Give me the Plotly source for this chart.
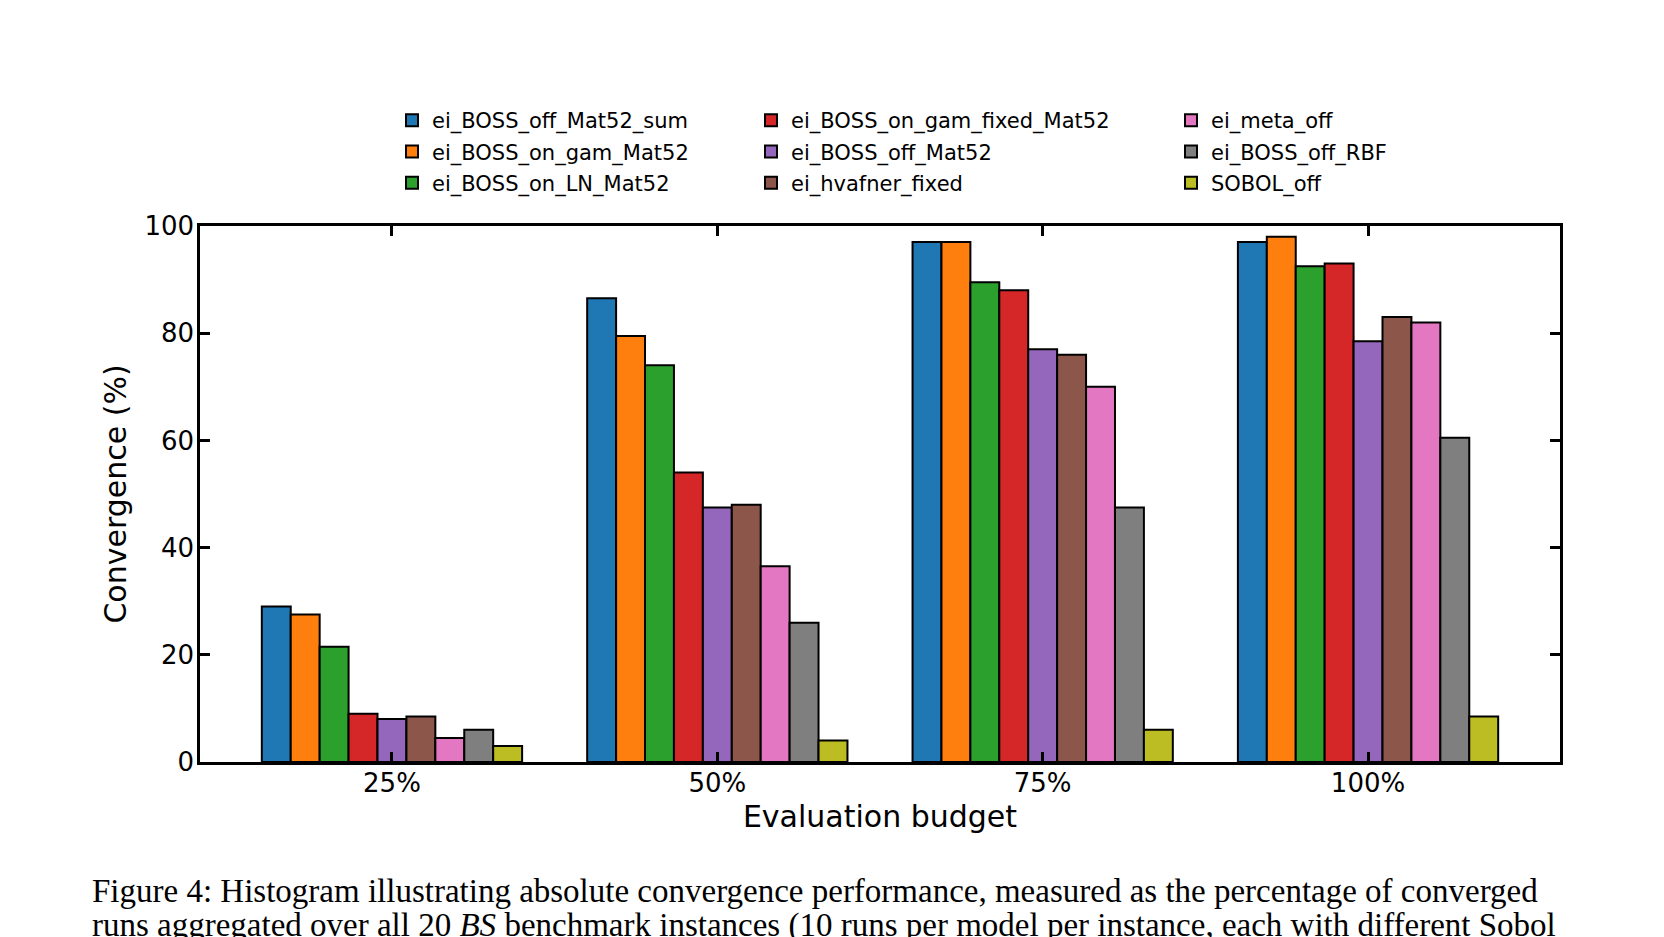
import plotly.graph_objects as go

categories = ["25%", "50%", "75%", "100%"]
series_names = [
    "ei_BOSS_off_Mat52_sum",
    "ei_BOSS_on_gam_Mat52",
    "ei_BOSS_on_LN_Mat52",
    "ei_BOSS_on_gam_fixed_Mat52",
    "ei_BOSS_off_Mat52",
    "ei_hvafner_fixed",
    "ei_meta_off",
    "ei_BOSS_off_RBF",
    "SOBOL_off",
]
ei_BOSS_off_Mat52_sum = [29.0, 86.5, 97.0, 97.0]
ei_BOSS_on_gam_Mat52 = [27.5, 79.5, 97.0, 98.0]
ei_BOSS_on_LN_Mat52 = [21.5, 74.0, 89.5, 92.5]
ei_BOSS_on_gam_fixed_Mat52 = [9.0, 54.0, 88.0, 93.0]
ei_BOSS_off_Mat52 = [8.0, 47.5, 77.0, 78.5]
ei_hvafner_fixed = [8.5, 48.0, 76.0, 83.0]
ei_meta_off = [4.5, 36.5, 70.0, 82.0]
ei_BOSS_off_RBF = [6.0, 26.0, 47.5, 60.5]
SOBOL_off = [3.0, 4.0, 6.0, 8.5]
series_values = [
    ei_BOSS_off_Mat52_sum, ei_BOSS_on_gam_Mat52, ei_BOSS_on_LN_Mat52,
    ei_BOSS_on_gam_fixed_Mat52, ei_BOSS_off_Mat52, ei_hvafner_fixed,
    ei_meta_off, ei_BOSS_off_RBF, SOBOL_off,
]
y_ticks = [0, 20, 40, 60, 80, 100]

colors = ["#1f77b4", "#ff7f0e", "#2ca02c", "#d62728", "#9467bd",
          "#8c564b", "#e377c2", "#7f7f7f", "#bcbd22"]

W, H = 1664, 937
L, R, T, B = 200, 1560, 226, 762
pw, ph = R - L, B - T


def px(x):
    return (x - L) / pw


def py(y):
    return (B - y) / ph


FONT = "DejaVu Sans"
fig = go.Figure()
legend_ids = ["legend", "legend2", "legend3"]
for i, (name, vals, c) in enumerate(zip(series_names, series_values, colors)):
    fig.add_trace(go.Bar(
        x=categories, y=vals, name=name,
        marker=dict(color=c, line=dict(color="black", width=2)),
        legend=legend_ids[i // 3],
        legendgroup=name,
    ))

leg_common = dict(
    xanchor="left", yanchor="top", orientation="v",
    font=dict(family=FONT, size=21, color="black"),
    bgcolor="rgba(0,0,0,0)", tracegroupgap=1, itemwidth=30,
)
text_starts = [434, 793, 1213]
lay_legends = {}
for lid, ts in zip(legend_ids, text_starts):
    lay_legends[lid] = dict(x=px(ts - 42), y=py(100), **leg_common)

axis_common = dict(
    showline=True, linecolor="black", linewidth=2.5, mirror="ticks",
    ticks="inside", ticklen=10, tickwidth=2.5, tickcolor="black",
    tickfont=dict(family=FONT, size=26, color="black"),
    showgrid=False, zeroline=False,
)

fig.update_layout(
    width=W, height=H,
    margin=dict(l=L, r=W - R, t=T, b=H - B, pad=0),
    paper_bgcolor="white", plot_bgcolor="white",
    barmode="group", bargap=0.2, bargroupgap=0,
    showlegend=True,
    xaxis=dict(
        range=[-0.59, 3.59], type="category",
        title=dict(text="Evaluation budget", font=dict(family=FONT, size=30, color="black"), standoff=10),
        ticklabelstandoff=-4,
        **axis_common,
    ),
    yaxis=dict(
        range=[0, 100], tickvals=y_ticks,
        title=dict(text="Convergence (%)", font=dict(family=FONT, size=30, color="black"), standoff=9),
        ticklabelstandoff=-2,
        **axis_common,
    ),
    **lay_legends,
)

caption1 = ("Figure 4: Histogram illustrating absolute convergence performance, "
            "measured as the percentage of converged")
caption2 = ("runs aggregated over all 20 <i>BS</i> benchmark instances (10 runs per model "
            "per instance, each with different Sobol")
for txt, yc in [(caption1, 891), (caption2, 925)]:
    fig.add_annotation(
        text=txt, xref="paper", yref="paper", x=px(90), y=py(yc),
        xanchor="left", yanchor="middle", showarrow=False,
        font=dict(family="Liberation Serif", size=33, color="black"),
    )

fig.write_html("out.html")
